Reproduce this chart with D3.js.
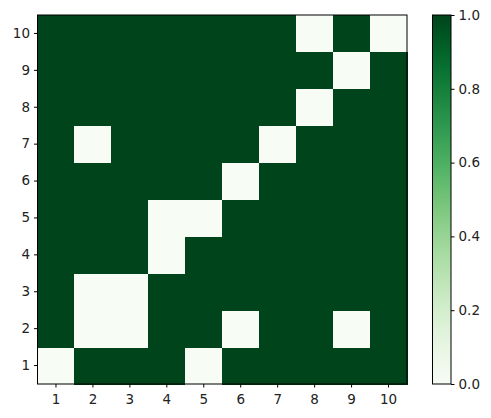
<!DOCTYPE html>
<html><head><meta charset="utf-8">
<script src="https://cdn.jsdelivr.net/npm/d3@7"></script>
<style>body{margin:0;background:#fff}svg text{font-family:"DejaVu Sans",sans-serif}</style>
</head><body>
<svg id="c" width="491" height="418"></svg>
<script>
const xCats = [1,2,3,4,5,6,7,8,9,10];
const yCats = [1,2,3,4,5,6,7,8,9,10];
// values[row] for y = 1..10, columns x = 1..10
const row1  = [0,1,1,1,0,1,1,1,1,1];
const row2  = [1,0,0,1,1,0,1,1,0,1];
const row3  = [1,0,0,1,1,1,1,1,1,1];
const row4  = [1,1,1,0,1,1,1,1,1,1];
const row5  = [1,1,1,0,0,1,1,1,1,1];
const row6  = [1,1,1,1,1,0,1,1,1,1];
const row7  = [1,0,1,1,1,1,0,1,1,1];
const row8  = [1,1,1,1,1,1,1,0,1,1];
const row9  = [1,1,1,1,1,1,1,1,0,1];
const row10 = [1,1,1,1,1,1,1,0,1,0];
const rows = [row1,row2,row3,row4,row5,row6,row7,row8,row9,row10];
const cbTicks = [0,0.2,0.4,0.6,0.8,1.0];

const svg = d3.select("#c");
const L=37.5, R=407, T=15, B=384;
const x = d3.scaleBand().domain(xCats).range([L,R]).padding(0);
const y = d3.scaleBand().domain(yCats).range([B,T]).padding(0);
const color = d3.scaleSequential(d3.interpolateGreens).domain([0,1]);

const cells = [];
rows.forEach((r,i)=>r.forEach((v,j)=>cells.push({x:xCats[j],y:yCats[i],v})));
svg.append("g").selectAll("rect").data(cells).join("rect")
  .attr("x",d=>x(d.x)).attr("y",d=>y(d.y))
  .attr("width",x.bandwidth()+0.5).attr("height",y.bandwidth()+0.5)
  .attr("fill",d=>color(d.v)).attr("shape-rendering","crispEdges");

svg.append("rect").attr("x",L).attr("y",T).attr("width",R-L).attr("height",B-T)
  .attr("fill","none").attr("stroke","#000").attr("stroke-width",1);

const fs = "13.5px";
const xa = svg.append("g").attr("transform",`translate(0,${B})`)
  .call(d3.axisBottom(x).tickSize(3.5).tickPadding(4));
const ya = svg.append("g").attr("transform",`translate(${L},0)`)
  .call(d3.axisLeft(y).tickSize(3.5).tickPadding(4));
[xa,ya].forEach(a=>{a.select(".domain").remove();a.selectAll("text").attr("font-size",fs).attr("fill","#222").attr("font-family","DejaVu Sans");a.selectAll("line").attr("stroke","#000");});
xa.selectAll("text").attr("dy","0.9em");

// colorbar
const cbL=432.5, cbW=18.5;
const cy = d3.scaleLinear().domain([0,1]).range([B,T]);
const defs = svg.append("defs");
const grad = defs.append("linearGradient").attr("id","g").attr("x1",0).attr("y1",1).attr("x2",0).attr("y2",0);
d3.range(0,1.0001,0.05).forEach(t=>grad.append("stop").attr("offset",t).attr("stop-color",color(t)));
svg.append("rect").attr("x",cbL).attr("y",T).attr("width",cbW).attr("height",B-T).attr("fill","url(#g)")
  .attr("stroke","#000").attr("stroke-width",1);
const ca = svg.append("g").attr("transform",`translate(${cbL+cbW},0)`)
  .call(d3.axisRight(cy).tickValues(cbTicks).tickFormat(d3.format(".1f")).tickSize(3.5).tickPadding(4));
ca.select(".domain").remove();
ca.selectAll("text").attr("font-size",fs).attr("fill","#222").attr("font-family","DejaVu Sans");
ca.selectAll("line").attr("stroke","#000");
</script>
</body></html>
